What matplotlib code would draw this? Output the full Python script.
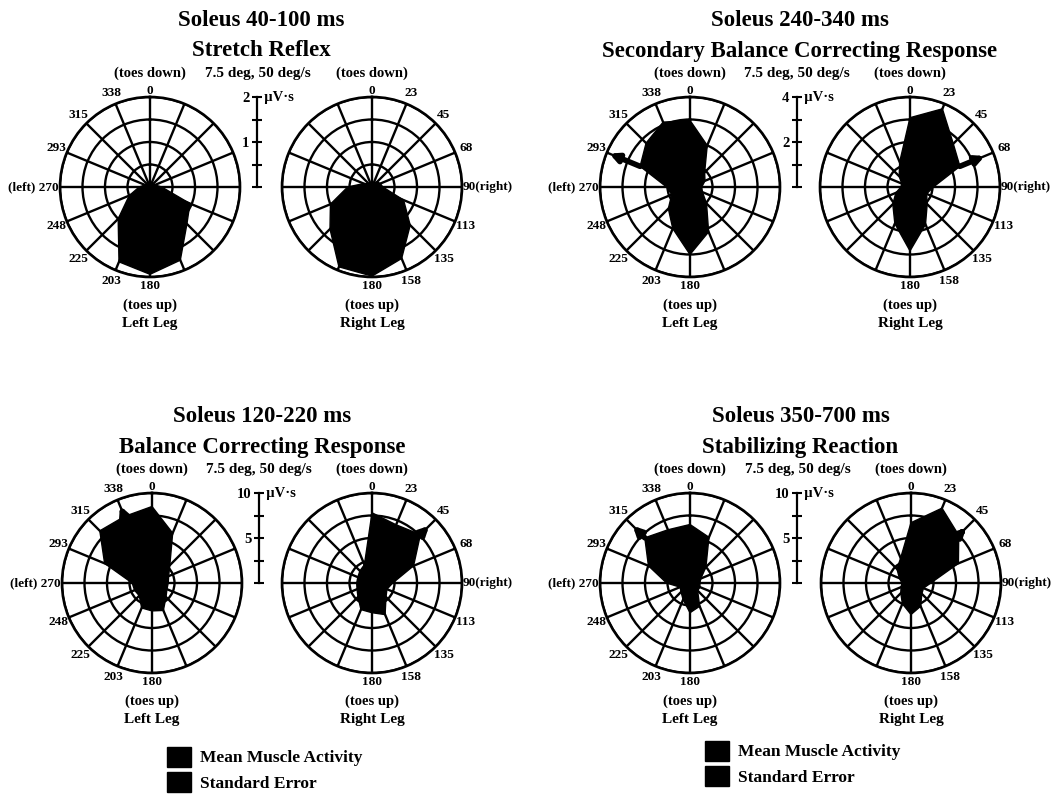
import numpy as np
import matplotlib
matplotlib.use('Agg')
import matplotlib.pyplot as plt
from matplotlib.patches import Patch

plt.rcParams['font.family'] = ['Liberation Serif', 'DejaVu Serif']
plt.rcParams['font.weight'] = 'bold'

W, H = 1058, 796

# -> data (uV*s), 16 directions every 22.5 deg, 0 = toes down, clockwise
directions = [0, 23, 45, 68, 90, 113, 135, 158, 180, 203, 225, 248, 270, 293, 315, 338]

titles = ['Soleus 40-100 ms', 'Soleus 240-340 ms', 'Soleus 120-220 ms', 'Soleus 350-700 ms']
subtitles = ['Stretch Reflex', 'Secondary Balance Correcting Response',
             'Balance Correcting Response', 'Stabilizing Reaction']
scale_max = [2, 4, 10, 10]

p1_left = [0.06, 0.08, 0.1, 0.12, 0.26, 0.96, 1.16, 1.76, 1.94, 1.8, 1.0, 0.5, 0.24, 0.12, 0.08, 0.06]
p1_right = [0.06, 0.1, 0.16, 0.2, 0.24, 0.76, 1.2, 1.72, 1.98, 1.92, 1.32, 1.0, 0.54, 0.2, 0.1, 0.06]

p2_left = [2.96, 2.0, 0.92, 0.72, 0.52, 0.6, 1.04, 2.16, 3.0, 2.0, 1.36, 0.88, 1.04, 2.4, 2.76, 3.12]
p2_right = [3.08, 3.76, 2.72, 2.4, 1.04, 0.8, 1.08, 1.8, 2.84, 1.76, 1.08, 0.68, 0.4, 0.4, 0.68, 1.2]

p3_left = [8.5, 6.0, 2.8, 2.0, 1.8, 1.8, 2.2, 3.3, 3.1, 3.0, 2.0, 2.1, 2.2, 5.7, 8.2, 8.0]
p3_right = [7.8, 7.0, 7.6, 5.0, 2.3, 1.8, 2.2, 3.8, 3.3, 3.2, 2.2, 1.8, 1.7, 1.7, 1.9, 2.2]

p4_left = [6.5, 5.5, 2.5, 1.3, 1.1, 1.2, 1.2, 2.8, 3.3, 2.0, 1.4, 1.2, 2.6, 5.0, 7.1, 6.4]
p4_right = [6.7, 9.0, 7.5, 5.7, 2.2, 1.5, 1.7, 2.8, 3.5, 2.5, 1.6, 1.2, 1.0, 1.4, 2.2, 3.0]

# standard error that shows outside the mean polygon: (direction, se)
p1_left_se, p1_right_se = None, None
p2_left_se, p2_right_se = (293, 1.48), (68, 1.2)
p3_left_se, p3_right_se = (338, 1.3), (45, 1.4)
p4_left_se, p4_right_se = (315, 1.9), (45, 1.2)

means = [(p1_left, p1_right), (p2_left, p2_right), (p3_left, p3_right), (p4_left, p4_right)]
errors = [(p1_left_se, p1_right_se), (p2_left_se, p2_right_se),
          (p3_left_se, p3_right_se), (p4_left_se, p4_right_se)]

# -> layout (pixels)
R = 90
centers = [((150, 372), 187), ((690, 910), 187), ((152, 372), 583), ((690, 911), 583)]

fig = plt.figure(figsize=(W / 100, H / 100), dpi=100)
fig.patch.set_facecolor('white')


def fx(x):
    return x / W


def fy(y):
    return 1 - y / H


theta = np.deg2rad(np.arange(16) * 22.5)


def polar(cx, cy, vmax, vals, se, side):
    ax = fig.add_axes([fx(cx - R), fy(cy + R), 2 * R / W, 2 * R / H], projection='polar')
    ax.set_theta_zero_location('N')
    ax.set_theta_direction(-1)
    ax.set_ylim(0, vmax)
    ax.set_yticks(vmax * np.array([0.25, 0.5, 0.75, 1.0]))
    ax.set_xticks(theta)
    ax.set_xticklabels([])
    ax.set_yticklabels([])
    ax.tick_params(length=0)
    ax.grid(True, color='black', lw=1.7)
    ax.spines['polar'].set_linewidth(1.9)
    ax.set_axisbelow(True)

    t = np.append(theta, theta[0])
    r = np.append(vals, vals[0])
    ax.fill(t, r, color='black', zorder=3)
    if se is not None:
        d = np.deg2rad(directions.index(se[0]) * 22.5)
        m = vals[directions.index(se[0])]
        ax.annotate('', xy=(d, m + se[1]), xytext=(d, m),
                    arrowprops=dict(arrowstyle='-|>', color='black', lw=4,
                                    mutation_scale=12, shrinkA=0, shrinkB=0),
                    zorder=4, annotation_clip=False)

    idx = list(range(8, 16)) + [0] if side == 'left' else list(range(0, 9))
    for i in idx:
        lab = str(directions[i])
        if lab == '270':
            ax.text(theta[i], vmax * 1.01, '(left) 270', ha='right', va='center', fontsize=9.5)
        elif lab == '90':
            ax.text(theta[i], vmax * 1.01, '90(right)', ha='left', va='center', fontsize=9.5)
        elif lab == '0':
            ax.text(theta[i], vmax * 1.065, lab, ha='center', va='center', fontsize=9.5)
        elif lab == '180':
            ax.text(theta[i], vmax * 1.1, lab, ha='center', va='center', fontsize=9.5)
        else:
            ax.text(theta[i], vmax * 1.13, lab, ha='center', va='center', fontsize=9.5)
    return ax


for k in range(4):
    (lx, rx), cy = centers[k]
    vmax = scale_max[k]
    polar(lx, cy, vmax, means[k][0], errors[k][0], 'left')
    polar(rx, cy, vmax, means[k][1], errors[k][1], 'right')

    mid = (lx + rx) / 2
    fig.text(fx(mid), fy(cy - 167), titles[k], ha='center', va='center', fontsize=16.5)
    fig.text(fx(mid), fy(cy - 136), subtitles[k], ha='center', va='center', fontsize=16.5)
    fig.text(fx(mid - 3), fy(cy - 113), '7.5 deg, 50 deg/s', ha='center', va='center', fontsize=11)
    for x, leg in ((lx, 'Left Leg'), (rx, 'Right Leg')):
        fig.text(fx(x), fy(cy - 114), '(toes down)', ha='center', va='center', fontsize=10.5)
        fig.text(fx(x), fy(cy + 118), '(toes up)', ha='center', va='center', fontsize=10.5)
        fig.text(fx(x), fy(cy + 137), leg, ha='center', va='center', fontsize=11)

    # scale bar
    bx = lx + 107
    sb = fig.add_axes([fx(bx), fy(cy), 1 / W, R / H])
    sb.set_ylim(0, vmax)
    sb.set_xticks([])
    for s in ('top', 'right', 'bottom'):
        sb.spines[s].set_visible(False)
    sb.spines['left'].set_linewidth(1.6)
    sb.patch.set_alpha(0)
    sb.set_yticks(vmax * np.array([0, 0.25, 0.5, 0.75, 1.0]))
    sb.set_yticklabels(['', '', '%g' % (vmax / 2), '', '%g' % vmax])
    sb.tick_params(axis='y', direction='inout', length=7, width=1.5, pad=2, labelsize=10.5)
    sb.text(0.0, vmax, '  µV·s', transform=sb.get_yaxis_transform(), ha='left', va='center',
            fontsize=10.5)

# legends
handles = [Patch(facecolor='black', edgecolor='black'), Patch(facecolor='black', edgecolor='black')]
labels = ['Mean Muscle Activity', 'Standard Error']
for x0, y0 in ((158, 738), (696, 732)):
    fig.legend(handles, labels, loc='upper left', bbox_to_anchor=(fx(x0), fy(y0)), frameon=False,
               handlelength=1.4, handleheight=1.4, handletextpad=0.5, labelspacing=0.3,
               prop={'size': 12.5, 'weight': 'bold'}, borderpad=0)

fig.savefig('out.png', dpi=100, facecolor='white')
